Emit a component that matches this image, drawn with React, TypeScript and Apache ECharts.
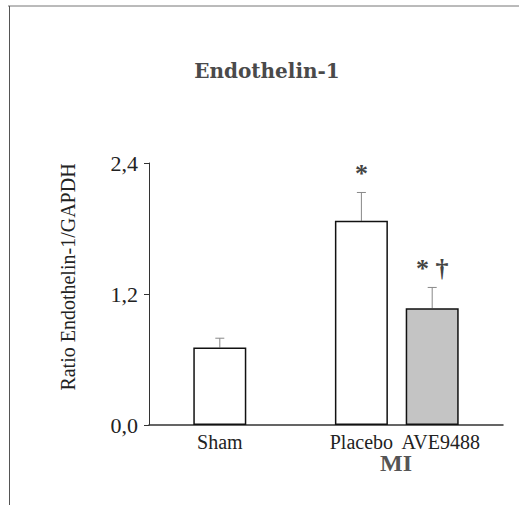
import React, { useEffect, useRef } from 'react';
import * as echarts from 'echarts';

const categories = ['', 'Sham', '', 'Placebo', 'AVE9488', ''];
const means: (number | null)[] = [null, 0.71, null, 1.87, 1.07, null];
const errors: (number | null)[] = [null, 0.085, null, 0.26, 0.19, null];
const marks = ['', '', '', '*', '* †', ''];
const yMin = 0;
const yMax = 2.4;
const yInterval = 1.2;
const titleText = 'Endothelin-1';
const yName = 'Ratio Endothelin-1/GAPDH';
const groupLabel = 'MI';

const SERIF = '"Liberation Serif", "Times New Roman", serif';

export default function App() {
  const ref = useRef<HTMLDivElement>(null);
  useEffect(() => {
    if (!ref.current) return;
    const chart = echarts.init(ref.current, null, { renderer: 'svg' });
    const barData = means.map((v, i) =>
      v == null
        ? '-'
        : {
            value: v,
            itemStyle: { color: i === 4 ? '#c4c4c4' : '#ffffff' },
          }
    );
    const errData = categories
      .map((c, i) => [i, means[i], errors[i]])
      .filter((d) => d[1] != null);

    const option: any = {
      animation: false,
      backgroundColor: '#ffffff',
      grid: { left: 149, right: 16, top: 163, bottom: 80, containLabel: false },
      xAxis: {
        type: 'category',
        data: categories,
        boundaryGap: false,
        axisLine: { show: true, lineStyle: { color: '#333', width: 1.5 } },
        axisTick: { show: false },
        splitLine: { show: false },
        axisLabel: {
          interval: 0,
          margin: 7,
          fontFamily: SERIF,
          fontSize: 20,
          color: '#222',
          formatter: (v: string) => (v === 'AVE9488' ? '{s|' + v + '}' : v),
          rich: {
            s: { padding: [0, 0, 0, 17], fontFamily: SERIF, fontSize: 20, color: '#222' },
          },
        },
      },
      yAxis: {
        type: 'value',
        min: yMin,
        max: yMax,
        interval: yInterval,
        axisLine: { show: true, lineStyle: { color: '#333', width: 1 } },
        axisTick: { show: true, length: 5, inside: false, lineStyle: { color: '#333' } },
        splitLine: { show: false },
        axisLabel: {
          margin: 11,
          fontFamily: SERIF,
          fontSize: 22,
          color: '#222',
          formatter: (v: number) => v.toFixed(1).replace('.', ','),
        },
      },
      series: [
        {
          type: 'custom',
          z: 1,
          data: errData,
          renderItem: (params: any, api: any) => {
            const x = api.value(0);
            const m = api.value(1);
            const e = api.value(2);
            const base = api.coord([x, m]);
            const top = api.coord([x, m + e]);
            const mark = marks[x] || '';
            return {
              type: 'group',
              children: [
                {
                  type: 'line',
                  shape: { x1: base[0], y1: base[1], x2: top[0], y2: top[1] },
                  style: { stroke: '#888', lineWidth: 1 },
                },
                {
                  type: 'line',
                  shape: { x1: top[0] - 4.5, y1: top[1], x2: top[0] + 4.5, y2: top[1] },
                  style: { stroke: '#888', lineWidth: 1 },
                },
                {
                  type: 'text',
                  x: top[0],
                  y: top[1] - 6,
                  style: {
                    text: mark,
                    align: 'center',
                    verticalAlign: 'bottom',
                    font: 'bold 26px ' + SERIF,
                    fill: '#444',
                  },
                },
              ],
            };
          },
        },
        {
          type: 'bar',
          z: 2,
          data: barData,
          barWidth: 53,
          itemStyle: { borderColor: '#111', borderWidth: 1.5 },
        },
      ],
      graphic: [
        {
          type: 'line',
          shape: { x1: 8, y1: 6, x2: 519, y2: 6 },
          style: { stroke: '#777', lineWidth: 1 },
        },
        {
          type: 'line',
          shape: { x1: 9.5, y1: 6, x2: 9.5, y2: 505 },
          style: { stroke: '#555', lineWidth: 1 },
        },
        {
          type: 'text',
          x: 267,
          y: 71,
          style: {
            text: titleText,
            align: 'center',
            verticalAlign: 'middle',
            font: 'bold 20px "DejaVu Serif", serif',
            fill: '#4a4a4a',
          },
        },
        {
          type: 'text',
          x: 68,
          y: 277,
          rotation: Math.PI / 2,
          style: {
            text: yName,
            align: 'center',
            verticalAlign: 'middle',
            font: '20px ' + SERIF,
            fill: '#222',
          },
        },
        {
          type: 'text',
          x: 396,
          y: 463,
          style: {
            text: groupLabel,
            align: 'center',
            verticalAlign: 'middle',
            font: 'bold 24px ' + SERIF,
            fill: '#555',
          },
        },
      ],
    };
    chart.setOption(option);
    return () => chart.dispose();
  }, []);
  return (
    <div
      ref={ref}
      style={{ position: 'fixed', left: 0, top: 0, width: 519, height: 505, background: '#fff' }}
    />
  );
}
